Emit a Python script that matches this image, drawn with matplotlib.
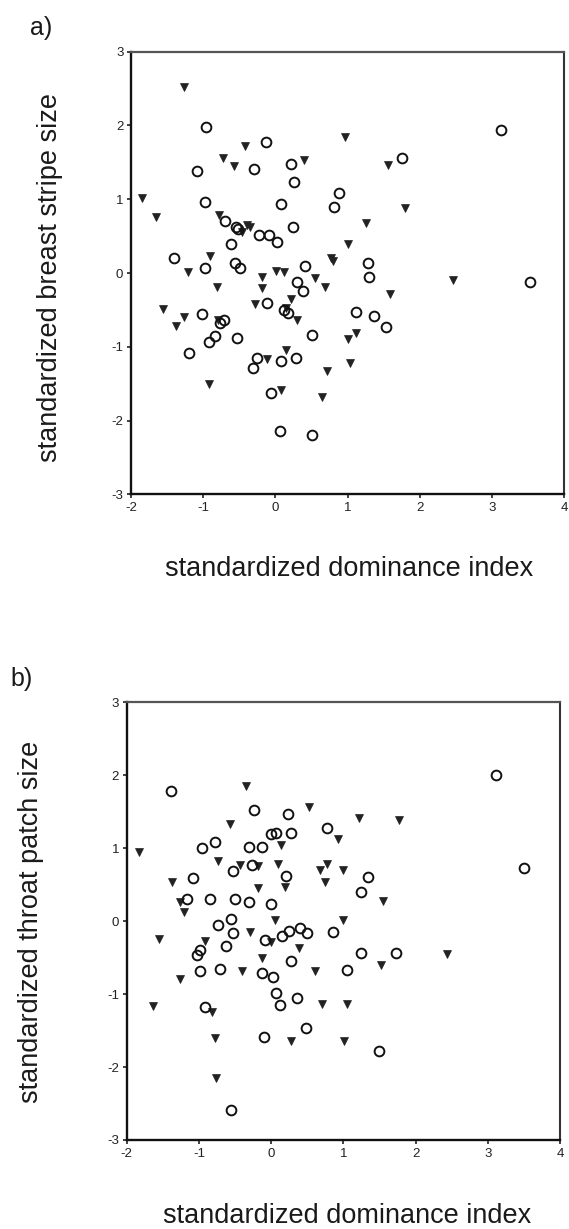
import matplotlib
matplotlib.use("Agg")
import matplotlib.pyplot as plt

plt.rcParams['font.family'] = ['Liberation Sans', 'DejaVu Sans']

# ---------------- data ----------------
xticks = [-2, -1, 0, 1, 2, 3, 4]
yticks = [-3, -2, -1, 0, 1, 2, 3]

# panel a) breast stripe size vs dominance
a_tri_x = [-1.26, -1.85, -1.65, -0.42, -0.72, -0.57, 0.40, 0.97, -0.78, -0.40, -0.35, -0.46,
           -0.91, -1.21, -0.18, 0.01, 0.12, 0.55, 0.77, 0.80, 1.01,
           -0.81, -0.18, 0.69, 0.21, -1.56, -1.26, -1.37, -0.28, 0.30, -0.79, 0.14, 0.14,
           -0.11, 0.72, -0.92, 0.08, 0.64, 1.01, 1.03,
           1.56, 1.79, 1.26, 2.46, 1.58, 1.11]
a_tri_y = [2.52, 1.01, 0.76, 1.72, 1.56, 1.45, 1.53, 1.84, 0.78, 0.65, 0.62, 0.56,
           0.23, 0.01, -0.05, 0.03, 0.01, -0.07, 0.21, 0.16, 0.39,
           -0.19, -0.20, -0.19, -0.35, -0.49, -0.59, -0.72, -0.42, -0.64, -0.64, -0.48, -1.04,
           -1.16, -1.33, -1.51, -1.58, -1.68, -0.90, -1.22,
           1.46, 0.88, 0.68, -0.09, -0.29, -0.81]
a_cir_x = [-0.96, -0.13, -1.09, -0.29, 0.22, 0.26, -0.98, 0.08, 0.88, 0.81, -0.70, -0.55,
           -0.52, -0.23, -0.09, 0.02, 0.25, -0.62, -1.40, -0.98, -0.56, -0.49, 0.41, 0.30,
           0.38, -0.12, -1.02, 0.12, 0.17, -0.71, -0.77, -0.84, -0.92, -0.53, -1.19, 0.51,
           -0.25, -0.31, 0.08, 0.29, -0.06, 0.06, 0.50,
           3.12, 1.75, 1.28, 1.29, 3.52, 1.11, 1.37, 1.53]
a_cir_y = [1.98, 1.78, 1.38, 1.41, 1.48, 1.24, 0.96, 0.93, 1.08, 0.89, 0.71, 0.62,
           0.59, 0.52, 0.52, 0.42, 0.62, 0.39, 0.20, 0.07, 0.14, 0.07, 0.09, -0.12,
           -0.25, -0.41, -0.56, -0.50, -0.54, -0.64, -0.68, -0.85, -0.93, -0.88, -1.09, -0.84,
           -1.15, -1.29, -1.19, -1.15, -1.62, -2.14, -2.19,
           1.94, 1.56, 0.13, -0.06, -0.12, -0.53, -0.58, -0.73]

# panel b) throat patch size vs dominance
b_tri_x = [-1.83, -0.35, -0.57, 0.53, 0.93, 0.13, -0.73, -0.43, -0.18, 0.10, 0.78, 0.67,
           1.00, -1.37, -0.18, 0.19, 0.74,
           -1.26, -1.21, -1.55, -0.91, -1.26, -1.64, -0.82, -0.78, -0.77, 0.06, -0.29,
           0.00, -0.12, -0.40, 0.38, 0.61, 1.00, 0.70, 1.05, 0.28, 1.01,
           1.22, 1.77, 1.55, 1.52, 2.44]
b_tri_y = [0.95, 1.85, 1.33, 1.56, 1.12, 1.05, 0.82, 0.77, 0.76, 0.79, 0.79, 0.70,
           0.70, 0.53, 0.45, 0.47, 0.53,
           0.26, 0.13, -0.24, -0.27, -0.79, -1.16, -1.25, -1.60, -2.15, 0.01, -0.15,
           -0.28, -0.50, -0.68, -0.37, -0.68, 0.01, -1.14, -1.14, -1.64, -1.64,
           1.41, 1.38, 0.27, -0.60, -0.45]
b_cir_x = [-1.39, -0.24, 0.24, 0.78, -0.96, -0.78, -0.31, -0.13, 0.00, 0.07, 0.27, -0.53,
           -0.26, 0.21, -1.08,
           -1.17, -0.85, -0.50, -0.31, 0.00, -0.56, -0.73, -0.53, -0.08, 0.15, 0.25, 0.40,
           0.50, 0.85, -0.63, -0.98, -1.02, 0.28, -0.99, -0.71, -0.13, 0.03, 1.05, 0.07,
           0.12, 0.36, -0.91, 0.48, -0.10, -0.56,
           3.11, 3.50, 1.34, 1.25, 1.25, 1.73, 1.49]
b_cir_y = [1.79, 1.53, 1.47, 1.28, 1.00, 1.08, 1.01, 1.01, 1.19, 1.21, 1.21, 0.69,
           0.77, 0.62, 0.59,
           0.30, 0.30, 0.30, 0.26, 0.24, 0.03, -0.05, -0.16, -0.26, -0.21, -0.14, -0.10,
           -0.16, -0.15, -0.34, -0.40, -0.46, -0.55, -0.68, -0.65, -0.71, -0.76, -0.67, -0.99,
           -1.15, -1.05, -1.17, -1.47, -1.59, -2.59,
           2.00, 0.73, 0.61, 0.40, -0.44, -0.43, -1.78]

# ---------------- figure ----------------
W, H = 569, 1229
fig = plt.figure(figsize=(W / 100, H / 100), dpi=100)
fig.patch.set_facecolor('white')


def px_axes(left, top, right, bottom):
    return fig.add_axes([left / W, 1 - bottom / H, (right - left) / W, (bottom - top) / H])


def style(ax):
    ax.set_xlim(-2, 4)
    ax.set_ylim(-3, 3)
    ax.set_xticks(xticks)
    ax.set_yticks(yticks)
    ax.set_xticklabels([str(t) for t in xticks])
    ax.set_yticklabels([str(t) for t in yticks])
    ax.tick_params(direction='out', length=3, width=1.2, labelsize=9.5, pad=2.5,
                   top=False, right=False, colors='#222222', labelcolor='#222222')
    for s in ['left', 'bottom']:
        ax.spines[s].set_linewidth(1.7)
        ax.spines[s].set_color('#111111')
    ax.spines['top'].set_linewidth(1.6)
    ax.spines['top'].set_color('#555555')
    ax.spines['right'].set_linewidth(1.5)
    ax.spines['right'].set_color('#333333')


def draw(ax, tx, ty, cx, cy):
    ax.plot(tx, ty, linestyle='none', marker='v', markersize=5.6,
            markerfacecolor='#222222', markeredgecolor='#222222', markeredgewidth=0.5)
    ax.plot(cx, cy, linestyle='none', marker='o', markersize=7.0,
            markerfacecolor='none', markeredgecolor='#111111', markeredgewidth=1.4)


ax_a = px_axes(131, 51.7, 564.3, 494.3)
style(ax_a)
draw(ax_a, a_tri_x, a_tri_y, a_cir_x, a_cir_y)

ax_b = px_axes(126.7, 702.3, 560, 1140)
style(ax_b)
draw(ax_b, b_tri_x, b_tri_y, b_cir_x, b_cir_y)

lab = dict(fontsize=19.5, color='#1a1a1a')
fig.text(50 / W, 1 - 278 / H, 'standardized breast stripe size', rotation=90,
         ha='center', va='center', **lab)
fig.text(349 / W, 1 - 576 / H, 'standardized dominance index', ha='center',
         va='baseline', **lab)
fig.text(31 / W, 1 - 922 / H, 'standardized throat patch size', rotation=90,
         ha='center', va='center', **lab)
fig.text(347 / W, 1 - 1223 / H, 'standardized dominance index', ha='center',
         va='baseline', **lab)

fig.text(30 / W, 1 - 35 / H, 'a)', ha='left', va='baseline', fontsize=18, color='#1a1a1a')
fig.text(10 / W, 1 - 686 / H, 'b)', ha='left', va='baseline', fontsize=18, color='#1a1a1a')

fig.savefig('out.png', dpi=100, facecolor='white')
